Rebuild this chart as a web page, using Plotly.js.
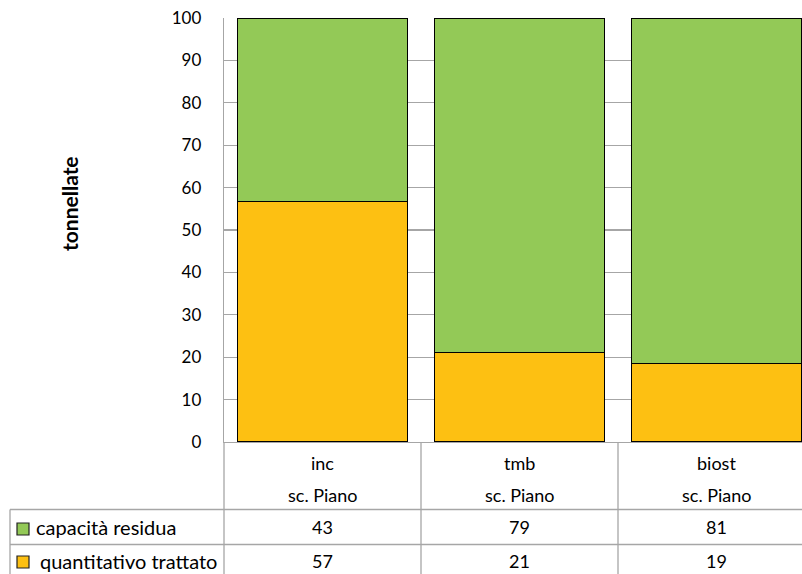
<!DOCTYPE html>
<html><head><meta charset="utf-8">
<script src="https://cdn.plot.ly/plotly-3.0.1.min.js"></script>
<style>html,body{margin:0;padding:0;background:#fff}</style>
</head><body>
<div id="chart" style="width:802px;height:574px"></div>
<script>
var categories = ["inc", "tmb", "biost"];
var subLabels = ["sc. Piano", "sc. Piano", "sc. Piano"];
var seriesNames = ["quantitativo trattato", "capacità residua"];
// bar heights as drawn
var quantitativo = [56.7, 21.1, 18.5];
var capacita = [43.3, 78.9, 81.5];
// values shown in the data table
var quantitativoTable = ["57", "21", "19"];
var capacitaTable = ["43", "79", "81"];
var yTicks = [0, 10, 20, 30, 40, 50, 60, 70, 80, 90, 100];

var FONT = "Lato, 'Liberation Sans', sans-serif";
var GREEN = "#93C957", ORANGE = "#FDC012", GRID = "#A6A6A6";
var xIdx = categories.map(function(_, i){ return i; });

var traces = [
  {type: "bar", x: xIdx, y: quantitativo, name: seriesNames[0], width: 0.863,
   marker: {color: ORANGE, line: {color: "#000", width: 1.5}}, hoverinfo: "none"},
  {type: "bar", x: xIdx, y: capacita, name: seriesNames[1], width: 0.863,
   marker: {color: GREEN, line: {color: "#000", width: 1.5}}, hoverinfo: "none"}
];

// pixel helpers (plot area: x 224..802, y 18..442)
var L = 224, W = 578, H = 424;
function yp(p){ return (442 - p) / H; }
function xp(p){ return (p - L) / W; }

var shapes = [];
var lineStyle = {color: GRID, width: 1.3};
shapes.push({type: "line", xref: "paper", yref: "paper", x0: xp(10), x1: 1, y0: yp(509.5), y1: yp(509.5), line: lineStyle});
shapes.push({type: "line", xref: "paper", yref: "paper", x0: xp(10), x1: 1, y0: yp(544.5), y1: yp(544.5), line: lineStyle});
shapes.push({type: "line", xref: "paper", yref: "paper", x0: xp(10), x1: xp(10), y0: yp(509.5), y1: yp(574), line: lineStyle});
shapes.push({type: "line", xref: "paper", yref: "paper", x0: 0, x1: 0, y0: 0, y1: yp(574), line: lineStyle});
for (var i = 0; i < categories.length - 1; i++) {
  shapes.push({type: "line", xref: "x", yref: "paper", x0: i + 0.5, x1: i + 0.5, y0: 0, y1: yp(574), line: lineStyle});
}
// legend keys
shapes.push({type: "rect", xref: "paper", yref: "paper", x0: xp(17), x1: xp(29), y0: yp(523), y1: yp(535),
  fillcolor: GREEN, line: {color: "#222", width: 1.2}});
shapes.push({type: "rect", xref: "paper", yref: "paper", x0: xp(17), x1: xp(29), y0: yp(556), y1: yp(568),
  fillcolor: ORANGE, line: {color: "#222", width: 1.2}});

var annotations = [];
var tf = {family: FONT, size: 18, color: "#000"};
var rf = {family: FONT, size: 20, color: "#000"};
categories.forEach(function(c, i){
  annotations.push({xref: "x", yref: "paper", x: i, y: yp(463), text: c, showarrow: false, font: tf, xanchor: "center", yanchor: "middle"});
  annotations.push({xref: "x", yref: "paper", x: i, y: yp(495), text: subLabels[i], showarrow: false, font: tf, xanchor: "center", yanchor: "middle"});
  annotations.push({xref: "x", yref: "paper", x: i, y: yp(527), text: capacitaTable[i], showarrow: false, font: tf, xanchor: "center", yanchor: "middle"});
  annotations.push({xref: "x", yref: "paper", x: i, y: yp(561), text: quantitativoTable[i], showarrow: false, font: tf, xanchor: "center", yanchor: "middle"});
});
annotations.push({xref: "paper", yref: "paper", x: xp(34), y: yp(527), text: seriesNames[1], showarrow: false, font: rf, xanchor: "left", yanchor: "middle"});
annotations.push({xref: "paper", yref: "paper", x: xp(38), y: yp(561), text: seriesNames[0], showarrow: false, font: rf, xanchor: "left", yanchor: "middle"});
annotations.push({xref: "paper", yref: "paper", x: xp(70), y: yp(204), text: "<b>tonnellate</b>", textangle: -90, showarrow: false,
  font: {family: FONT, size: 21, color: "#000"}, xanchor: "center", yanchor: "middle"});

var layout = {
  width: 802, height: 574,
  margin: {l: 224, r: 0, t: 18, b: 132, pad: 0},
  paper_bgcolor: "#fff", plot_bgcolor: "#fff",
  barmode: "stack", showlegend: false,
  xaxis: {range: [-0.5, 2.434], showticklabels: false, showgrid: false, zeroline: false,
    showline: true, linecolor: GRID, linewidth: 1.3, fixedrange: true},
  yaxis: {range: [0, 100], tickvals: yTicks, showgrid: true, gridcolor: GRID, gridwidth: 1.3,
    zeroline: false, showline: true, linecolor: GRID, linewidth: 1.3, ticks: "", ticklabelstandoff: 18,
    tickfont: {family: FONT, size: 17, color: "#000"}, fixedrange: true},
  shapes: shapes,
  annotations: annotations
};

Plotly.newPlot("chart", traces, layout, {staticPlot: true, displayModeBar: false});
</script>
</body></html>
